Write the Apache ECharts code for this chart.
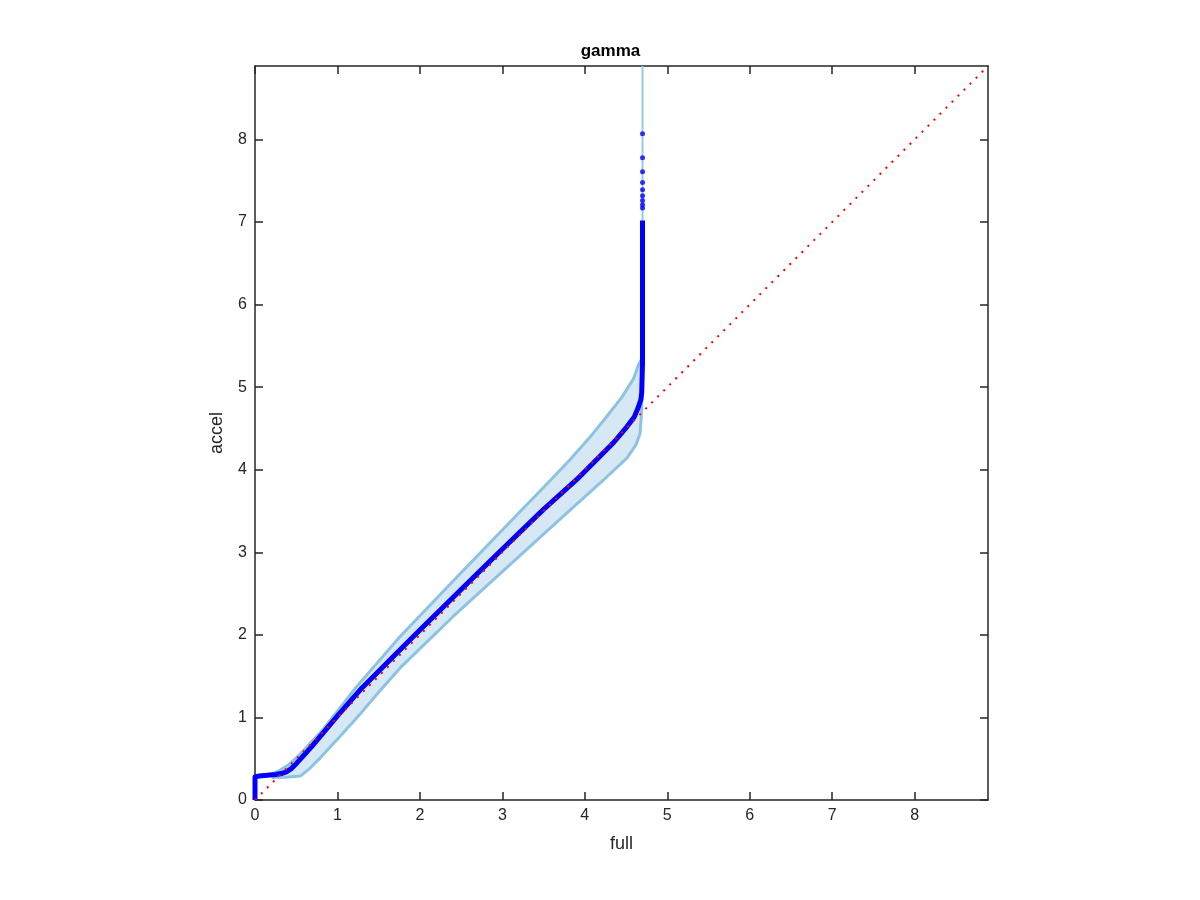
<!DOCTYPE html>
<html>
<head>
<meta charset="utf-8">
<script src="https://cdn.jsdelivr.net/npm/echarts@6/dist/echarts.min.js"></script>
<style>html,body{margin:0;padding:0;background:#fff;}#main{width:1200px;height:900px;}</style>
</head>
<body>
<div id="main"></div>
<script>
// ---- data ----
const axisMax = 8.89;
const tickValues = [0, 1, 2, 3, 4, 5, 6, 7, 8];

// main QQ curve (accel vs full)
const accelX = [0, 0, 0.05, 0.15, 0.25, 0.32, 0.38, 0.44, 0.5, 0.6, 0.69, 0.85, 1.0, 1.3, 1.76, 2.0, 2.5, 2.97, 3.5, 3.9, 4.16, 4.35, 4.51, 4.6, 4.65, 4.68, 4.69, 4.70, 4.70];
const accelY = [0, 0.28, 0.29, 0.30, 0.31, 0.32, 0.34, 0.38, 0.44, 0.55, 0.65, 0.84, 1.02, 1.36, 1.82, 2.06, 2.55, 3.01, 3.52, 3.88, 4.14, 4.33, 4.52, 4.64, 4.76, 4.85, 4.93, 5.3, 7.02];

// isolated tail points
const tailX = [4.70, 4.70, 4.70, 4.70, 4.70, 4.70, 4.70, 4.70, 4.70];
const tailY = [7.17, 7.21, 7.26, 7.32, 7.39, 7.48, 7.61, 7.78, 8.07];

// confidence band edges
const upperX = [0.2, 0.3, 0.4, 0.49, 0.6, 0.83, 1.23, 1.76, 2.4, 2.97, 3.58, 3.82, 4.05, 4.23, 4.45, 4.59, 4.65, 4.70];
const upperY = [0.31, 0.36, 0.42, 0.50, 0.61, 0.86, 1.37, 1.98, 2.65, 3.24, 3.87, 4.12, 4.38, 4.60, 4.88, 5.10, 5.27, 5.36];
const lowerX = [0.2, 0.4, 0.55, 0.65, 0.8, 1.03, 1.3, 1.52, 1.76, 2.4, 2.97, 3.6, 4.22, 4.51, 4.62, 4.67, 4.69, 4.70];
const lowerY = [0.27, 0.28, 0.29, 0.37, 0.52, 0.77, 1.07, 1.33, 1.60, 2.22, 2.74, 3.31, 3.87, 4.14, 4.30, 4.44, 4.72, 5.36];
// band upper bound goes to infinity at x = 4.70
const spikeX = [4.70, 4.70];
const spikeY = [5.36, axisMax];

// reference diagonal
const diagX = [0, axisMax];
const diagY = [0, axisMax];

// ---- build ----
const zip = (xs, ys) => xs.map((x, i) => [x, ys[i]]);
const bandPoly = zip(upperX, upperY).concat(zip(lowerX, lowerY).reverse());

const FONT = 'Liberation Sans, Arial, Helvetica, sans-serif';
const AX = '#262626';

const chart = echarts.init(document.getElementById('main'), null, {renderer: 'canvas'});

function mkAxis(pos, isX, main) {
  const a = {
    type: 'value', position: pos, min: 0, max: axisMax, interval: 1,
    axisLine: {show: true, onZero: false, lineStyle: {color: AX, width: 1.5}},
    axisTick: {show: true, inside: true, length: 8, lineStyle: {color: AX, width: 1.5},
      customValues: tickValues},
    axisLabel: {show: main, color: AX, fontSize: 16, fontFamily: FONT, margin: 8,
      customValues: tickValues},
    splitLine: {show: false}
  };
  if (main) {
    a.name = isX ? 'full' : 'accel';
    a.nameLocation = 'middle';
    a.nameGap = isX ? 35 : 29;
    a.nameTextStyle = {color: AX, fontSize: 18, fontFamily: FONT};
  }
  return a;
}

chart.setOption({
  animation: false,
  backgroundColor: '#ffffff',
  title: {
    text: 'gamma', left: 605.5, top: 38, textAlign: 'center',
    textStyle: {fontSize: 17, fontWeight: 'bold', color: '#000', fontFamily: FONT}
  },
  grid: {left: 255, right: 212, top: 66, bottom: 100},
  xAxis: [mkAxis('bottom', true, true), mkAxis('top', true, false)],
  yAxis: [mkAxis('left', false, true), mkAxis('right', false, false)],
  series: [
    {
      type: 'custom', name: 'band', xAxisIndex: 0, yAxisIndex: 0,
      data: [[0, 0]], clip: true, z: 1,
      renderItem: function (params, api) {
        const pts = bandPoly.map(p => api.coord(p));
        return {type: 'polygon', shape: {points: pts}, style: {fill: 'rgb(214,232,244)', stroke: 'none'}};
      }
    },
    {type: 'line', name: 'upper', data: zip(upperX, upperY), showSymbol: false, z: 2,
      lineStyle: {color: 'rgb(142,194,226)', width: 3}},
    {type: 'line', name: 'lower', data: zip(lowerX, lowerY), showSymbol: false, z: 2,
      lineStyle: {color: 'rgb(142,194,226)', width: 3}},
    {type: 'line', name: 'spike', data: zip(spikeX, spikeY), showSymbol: false, z: 2,
      lineStyle: {color: 'rgb(150,200,232)', width: 2}},
    {type: 'line', name: 'accel', data: zip(accelX, accelY), showSymbol: false, z: 3,
      lineStyle: {color: '#0000ff', width: 5, join: 'round'}},
    {type: 'scatter', name: 'tail', data: zip(tailX, tailY), symbol: 'circle', symbolSize: 5, z: 3,
      itemStyle: {color: '#0000ff'}},
    {type: 'line', name: 'diag', data: zip(diagX, diagY), showSymbol: false, z: 4,
      lineStyle: {color: '#ff0000', width: 2, type: [2, 6.5], cap: 'butt'}}
  ]
});
</script>
</body>
</html>
